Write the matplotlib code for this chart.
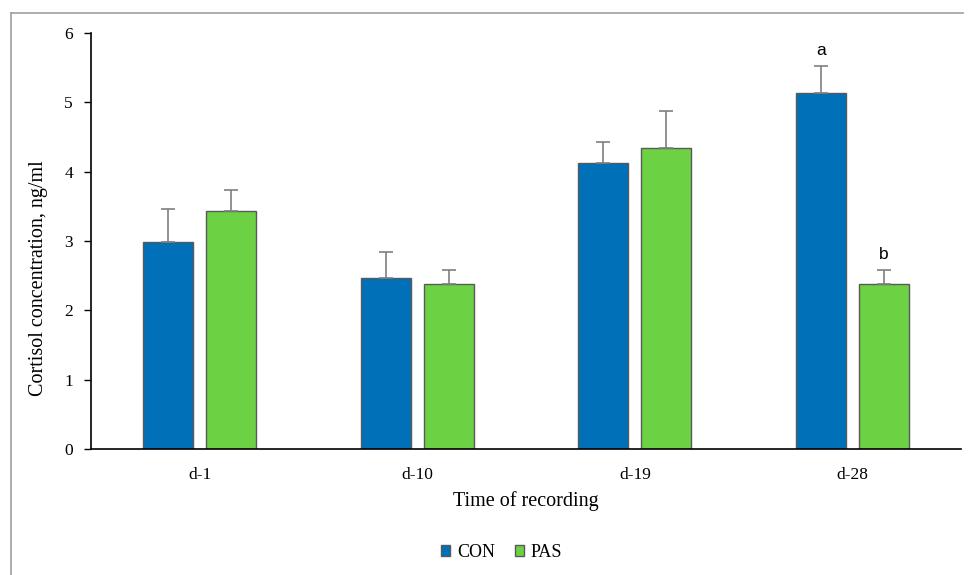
import matplotlib.pyplot as plt
import numpy as np
from matplotlib.lines import Line2D

# ===== 数据 =====
days = ["d-1", "d-10", "d-19", "d-28"]
con_mean = [2.98, 2.47, 4.13, 5.13]
con_err = [0.48, 0.37, 0.30, 0.39]
pas_mean = [3.43, 2.38, 4.34, 2.38]
pas_err = [0.31, 0.20, 0.53, 0.20]
letters_con = ["", "", "", "a"]
letters_pas = ["", "", "", "b"]

plt.rcParams["font.family"] = ["Liberation Serif", "DejaVu Serif"]

fig = plt.figure(figsize=(9.68, 5.75), dpi=100)
ax = fig.add_axes([0.094, 0.219, 0.899, 0.7235])

x = np.arange(len(days))
w = 0.23
off = 0.145
blue = "#0070b8"
green = "#6cd244"
edge = "#595959"

ax.bar(x - off, con_mean, w, color=blue, edgecolor=edge, linewidth=1.0, label="CON",
       yerr=[np.zeros(len(days)), con_err], error_kw=dict(ecolor="#7f7f7f", elinewidth=1.2, capsize=5, capthick=1.2))
ax.bar(x + off, pas_mean, w, color=green, edgecolor=edge, linewidth=1.0, label="PAS",
       yerr=[np.zeros(len(days)), pas_err], error_kw=dict(ecolor="#7f7f7f", elinewidth=1.2, capsize=5, capthick=1.2))

# 显著性字母
for i in range(len(days)):
    if letters_con[i]:
        ax.text(x[i] - off, con_mean[i] + con_err[i] + 0.12, letters_con[i], ha="center", va="bottom",
                fontsize=12.5, family="Liberation Sans")
    if letters_pas[i]:
        ax.text(x[i] + off, pas_mean[i] + pas_err[i] + 0.12, letters_pas[i], ha="center", va="bottom",
                fontsize=12.5, family="Liberation Sans")

ax.set_xlim(-0.5, 3.5)
ax.set_ylim(0, 6)
ax.set_xticks(x)
ax.set_xticklabels(days, fontsize=12.5)
ax.tick_params(axis="x", length=0, pad=13)
ax.tick_params(axis="y", labelsize=12.5, length=5, width=1, pad=8)
ax.set_yticks(range(0, 7))
ax.spines["top"].set_visible(False)
ax.spines["right"].set_visible(False)
ax.spines["left"].set_linewidth(1.2)
ax.spines["bottom"].set_linewidth(1.2)
ax.set_ylabel("Cortisol concentration, ng/ml", fontsize=14.5)
ax.yaxis.set_label_coords(-0.049, 0.41)
ax.set_xlabel("Time of recording", fontsize=14.5, labelpad=6)

handles = [plt.Rectangle((0, 0), 1, 1, facecolor=blue, edgecolor=edge, linewidth=1.0),
           plt.Rectangle((0, 0), 1, 1, facecolor=green, edgecolor=edge, linewidth=1.0)]
fig.legend(handles, ["CON", "PAS"], loc="center", bbox_to_anchor=(0.518, 0.039), ncol=2,
           frameon=False, fontsize=13, handlelength=0.55, handleheight=0.55, handletextpad=0.35,
           columnspacing=1.1)

# 外框（左边和上边）
fig.add_artist(Line2D([11 / 968, 11 / 968], [0, 1 - 13 / 575], color="#a0a0a0", linewidth=1.2))
fig.add_artist(Line2D([11 / 968, 963 / 968], [1 - 13 / 575, 1 - 13 / 575], color="#a0a0a0", linewidth=1.2))

fig.savefig("out.png", dpi=100)
